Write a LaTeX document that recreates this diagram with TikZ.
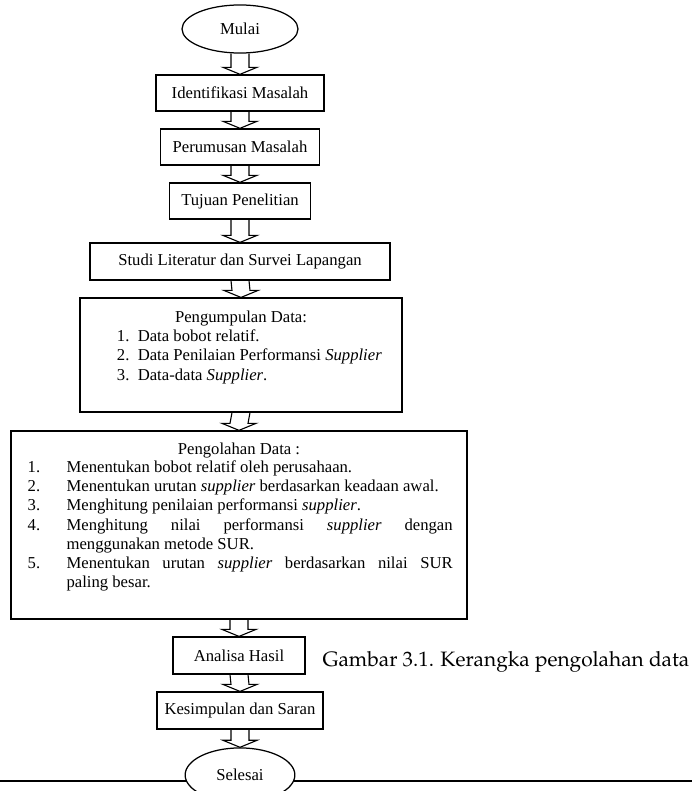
\documentclass[tikz,border=0pt]{standalone}
\usepackage{fontspec}
\setmainfont{Liberation Serif}
\usetikzlibrary{shapes.geometric,calc}

\newcommand{\captionfont}{\fontencoding{OT1}\fontfamily{ppl}\fontsize{15}{18}\selectfont}
\newcommand{\flowarrow}[2]{%
    \draw[flow] ($(#1.south)+(-9,0)$) -- ($(#2.north)+(-9,-7)$) -- ($(#2.north)+(-17,-7)$) -- (#2.north)
        -- ($(#2.north)+(17,-7)$) -- ($(#2.north)+(9,-7)$) -- ($(#1.south)+(9,0)$);}

\tikzset{
    boxtext/.style={font=\fontsize{12}{13.8}\selectfont},
    process/.style={boxtext, draw, line width=0.9pt, minimum height=26pt, inner sep=2pt, fill=white},
    terminal/.style={boxtext, draw, ellipse, line width=0.9pt, inner sep=0pt, fill=white},
    bigbox/.style={boxtext, draw, line width=0.9pt, inner sep=0pt},
    flow/.style={line width=0.8pt, line join=miter},
}

\begin{document}
\begin{tikzpicture}[x=0.72pt,y=-0.72pt]
                \useasboundingbox (0,0) rectangle (692,791);
                \node[terminal, minimum width=83.5pt, minimum height=34.6pt] at (240,29) (mulai) {Mulai};
                \node[process, minimum width=121pt] at (240,93) (identifikasi) {Identifikasi Masalah};
                \node[process, minimum width=115pt] at (240,147) (perumusan) {Perumusan Masalah};
                \node[process, minimum width=101pt] at (240,201) (tujuan) {Tujuan Penelitian};
                \node[process, minimum width=216pt, minimum height=26.6pt] at (240,261.5) (studi) {Studi Literatur dan Survei Lapangan};
                % kotak pengumpulan data
                \node[bigbox] at (241,355) (kumpul) {%
                    \begin{minipage}[t][82pt][t]{231.8pt}
                        \vspace*{9pt}
                        \centering Pengumpulan Data:\par
                        \raggedright\renewcommand{\arraystretch}{1.04}%
                        \begin{tabular}{@{\hspace{26.6pt}}p{15pt}@{}l@{}}
                            1. & Data bobot relatif.\\
                            2. & Data Penilaian Performansi \textit{Supplier}\\
                            3. & Data-data \textit{Supplier}.
                        \end{tabular}
                    \end{minipage}};
                % kotak pengolahan data
                \node[bigbox] at (239,525) (olah) {%
                    \begin{minipage}[t][135.4pt][t]{328.3pt}
                        \vspace*{8.4pt}
                        \centering Pengolahan Data :\par
                        \raggedright
                        \begin{tabular}{@{\hspace{12pt}}p{28pt}@{}p{278pt}@{}}
                            1. & Menentukan bobot relatif oleh perusahaan.\\
                            2. & Menentukan urutan \textit{supplier} berdasarkan keadaan awal.\\
                            3. & Menghitung penilaian performansi \textit{supplier}.\\
                            4. & Menghitung nilai performansi \textit{supplier} dengan\linebreak menggunakan metode SUR.\\
                            5. & Menentukan urutan \textit{supplier} berdasarkan nilai SUR\linebreak paling besar.
                        \end{tabular}
                    \end{minipage}};
                \node[process, minimum width=95pt, minimum height=26.6pt] at (239,655.5) (analisa) {Analisa Hasil};
                \node[process, minimum width=119.5pt, minimum height=26.6pt] at (240,710.5) (kesimpulan) {Kesimpulan dan Saran};
                \draw[line width=0.9pt] (0,781) -- (692,781);
                \node[terminal, minimum width=79pt, minimum height=39pt] at (240,775) (selesai) {Selesai};
                \node at (506,662) (judul) {\captionfont Gambar 3.1. Kerangka pengolahan data};
                % panah
                \flowarrow{mulai}{identifikasi}
                \flowarrow{identifikasi}{perumusan}
                \flowarrow{perumusan}{tujuan}
                \flowarrow{tujuan}{studi}
                \flowarrow{studi}{kumpul}
                \flowarrow{kumpul}{olah}
                \flowarrow{olah}{analisa}
                \flowarrow{analisa}{kesimpulan}
                \flowarrow{kesimpulan}{selesai}
\end{tikzpicture}
\end{document}
